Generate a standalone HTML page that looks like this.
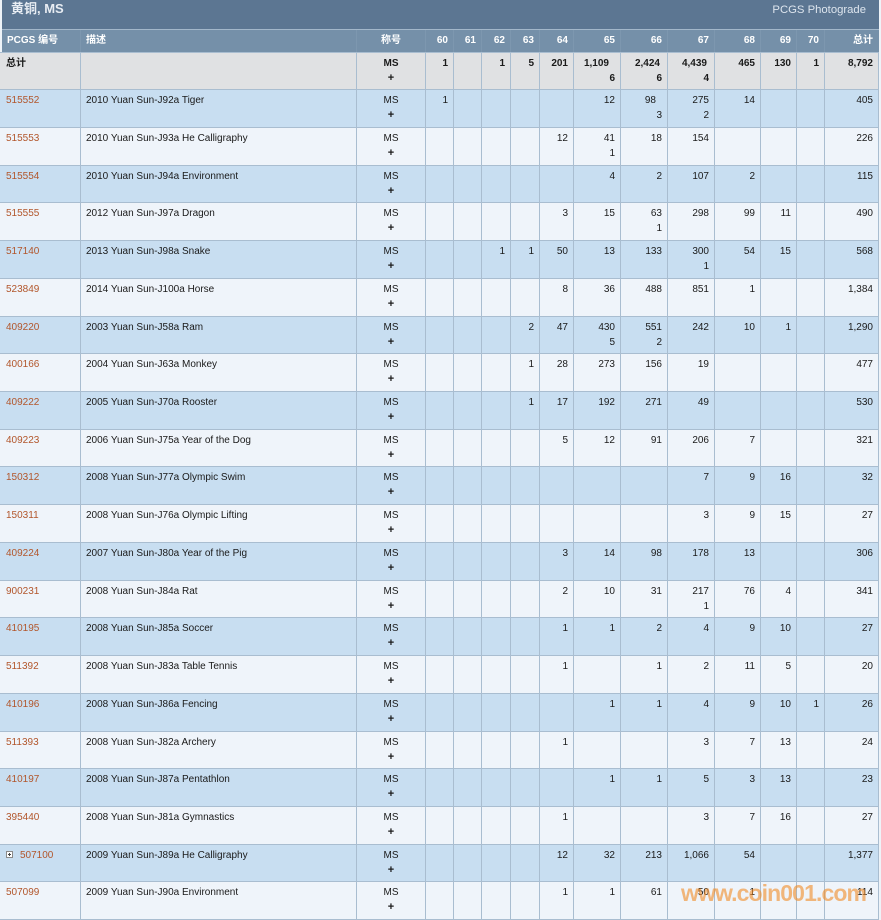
<!DOCTYPE html>
<html><head><meta charset="utf-8">
<style>
html,body{margin:0;padding:0}
body{width:881px;height:920px;position:relative;overflow:hidden;background:#eef3f8;font-family:"Liberation Sans","Noto Sans CJK SC",sans-serif;font-size:10px;color:#1a1a1a}
.title{position:absolute;left:2px;top:0;width:877px;height:29px;background:#5c7692}
.title .t{position:absolute;left:9px;top:1px;line-height:16px;font-size:13px;font-weight:bold;color:#e8edf3}
.title .p{position:absolute;right:13px;top:3px;line-height:14px;font-size:11.3px;color:#dde5ee}
.row{position:absolute;left:0;width:879px;box-sizing:border-box;border-top:1px solid #a9bdd0;display:flex}
.row>div{box-sizing:border-box;border-left:1px solid #a9bdd0;padding:3px 5px 0 5px;text-align:right;line-height:15px;height:100%;white-space:nowrap}
.row>div:nth-child(1){width:80px;border-left:none;padding-left:6px;text-align:left}
.row>div:nth-child(2){width:276px;text-align:left}
.row>div:nth-child(3){width:69px;text-align:center;padding:3px 0 0 0}
.row>div:nth-child(4){width:28px}
.row>div:nth-child(5){width:28px}
.row>div:nth-child(6){width:29px}
.row>div:nth-child(7){width:29px}
.row>div:nth-child(8){width:34px}
.row>div:nth-child(9){width:47px}
.row>div:nth-child(10){width:47px}
.row>div:nth-child(11){width:47px}
.row>div:nth-child(12){width:46px}
.row>div:nth-child(13){width:36px}
.row>div:nth-child(14){width:28px}
.row>div:nth-child(15){width:55px;border-right:1px solid #a9bdd0;padding-right:5px}
.row>div:nth-child(3) b{font-size:11px}
.hd{top:29px;height:23px;left:2px !important;width:877px !important;background:#7590a9;border-top:1px solid #a3b7ca !important;color:#fff;font-weight:bold}
.hd>div{border-left:1px solid #7d97af !important;line-height:22px !important;padding-top:0 !important}
.hd>div:nth-child(1){width:78px !important;border-left:none !important;padding-left:5px !important}
.hd>div:nth-child(15){border-right:none !important;padding-right:6px !important}
.tot{top:52px;height:37px;background:#e0e1e3;font-weight:bold}
.b{background:#c8def1}
.l{background:#eff4fa}
a{color:#b2562b;text-decoration:none}
.ex{display:inline-block;width:5px;height:5px;border:1px solid #8a8a8a;background:#fff;position:relative;vertical-align:top;margin:3px 7px 0 0}
.ex:before{content:"";position:absolute;left:1px;top:2px;width:3px;height:1px;background:#444}
.ex:after{content:"";position:absolute;left:2px;top:1px;width:1px;height:3px;background:#444}
.bot{position:absolute;left:0;top:919px;width:879px;height:1px;background:#a9bdd0}
.wm{position:absolute;left:681px;top:882px;font-size:23px;line-height:23px;font-weight:bold;letter-spacing:-0.9px;color:rgba(240,138,36,0.6);white-space:nowrap}
</style></head><body>
<div class="title"><div class="t">黄铜, MS</div><div class="p">PCGS Photograde</div></div>

<div class="row hd"><div>PCGS 编号</div><div>描述</div><div>称号</div><div>60</div><div>61</div><div>62</div><div>63</div><div>64</div><div>65</div><div>66</div><div>67</div><div>68</div><div>69</div><div>70</div><div>总计</div></div>

<div class="row tot"><div>总计</div><div></div><div>MS<br><b>+</b></div><div>1</div><div></div><div>1</div><div>5</div><div>201</div><div><span style="margin-right:6px">1,109</span><br>6</div><div><span style="margin-right:2px">2,424</span><br>6</div><div><span style="margin-right:2px">4,439</span><br>4</div><div>465</div><div>130</div><div>1</div><div>8,792</div></div>

<div class="row b" style="top:89px;height:38px"><div><a>515552</a></div><div>2010 Yuan Sun-J92a Tiger</div><div>MS<br><b>+</b></div><div>1</div><div></div><div></div><div></div><div></div><div>12</div><div><span style="margin-right:6px">98</span><br>3</div><div>275<br>2</div><div>14</div><div></div><div></div><div>405</div></div>

<div class="row l" style="top:127px;height:38px"><div><a>515553</a></div><div>2010 Yuan Sun-J93a He Calligraphy</div><div>MS<br><b>+</b></div><div></div><div></div><div></div><div></div><div>12</div><div>41<br>1</div><div>18</div><div>154</div><div></div><div></div><div></div><div>226</div></div>

<div class="row b" style="top:165px;height:37px"><div><a>515554</a></div><div>2010 Yuan Sun-J94a Environment</div><div>MS<br><b>+</b></div><div></div><div></div><div></div><div></div><div></div><div>4</div><div>2</div><div>107</div><div>2</div><div></div><div></div><div>115</div></div>

<div class="row l" style="top:202px;height:38px"><div><a>515555</a></div><div>2012 Yuan Sun-J97a Dragon</div><div>MS<br><b>+</b></div><div></div><div></div><div></div><div></div><div>3</div><div>15</div><div>63<br>1</div><div>298</div><div>99</div><div>11</div><div></div><div>490</div></div>

<div class="row b" style="top:240px;height:38px"><div><a>517140</a></div><div>2013 Yuan Sun-J98a Snake</div><div>MS<br><b>+</b></div><div></div><div></div><div>1</div><div>1</div><div>50</div><div>13</div><div>133</div><div>300<br>1</div><div>54</div><div>15</div><div></div><div>568</div></div>

<div class="row l" style="top:278px;height:38px"><div><a>523849</a></div><div>2014 Yuan Sun-J100a Horse</div><div>MS<br><b>+</b></div><div></div><div></div><div></div><div></div><div>8</div><div>36</div><div>488</div><div>851</div><div>1</div><div></div><div></div><div>1,384</div></div>

<div class="row b" style="top:316px;height:37px"><div><a>409220</a></div><div>2003 Yuan Sun-J58a Ram</div><div>MS<br><b>+</b></div><div></div><div></div><div></div><div>2</div><div>47</div><div>430<br>5</div><div>551<br>2</div><div>242</div><div>10</div><div>1</div><div></div><div>1,290</div></div>

<div class="row l" style="top:353px;height:38px"><div><a>400166</a></div><div>2004 Yuan Sun-J63a Monkey</div><div>MS<br><b>+</b></div><div></div><div></div><div></div><div>1</div><div>28</div><div>273</div><div>156</div><div>19</div><div></div><div></div><div></div><div>477</div></div>

<div class="row b" style="top:391px;height:38px"><div><a>409222</a></div><div>2005 Yuan Sun-J70a Rooster</div><div>MS<br><b>+</b></div><div></div><div></div><div></div><div>1</div><div>17</div><div>192</div><div>271</div><div>49</div><div></div><div></div><div></div><div>530</div></div>

<div class="row l" style="top:429px;height:37px"><div><a>409223</a></div><div>2006 Yuan Sun-J75a Year of the Dog</div><div>MS<br><b>+</b></div><div></div><div></div><div></div><div></div><div>5</div><div>12</div><div>91</div><div>206</div><div>7</div><div></div><div></div><div>321</div></div>

<div class="row b" style="top:466px;height:38px"><div><a>150312</a></div><div>2008 Yuan Sun-J77a Olympic Swim</div><div>MS<br><b>+</b></div><div></div><div></div><div></div><div></div><div></div><div></div><div></div><div>7</div><div>9</div><div>16</div><div></div><div>32</div></div>

<div class="row l" style="top:504px;height:38px"><div><a>150311</a></div><div>2008 Yuan Sun-J76a Olympic Lifting</div><div>MS<br><b>+</b></div><div></div><div></div><div></div><div></div><div></div><div></div><div></div><div>3</div><div>9</div><div>15</div><div></div><div>27</div></div>

<div class="row b" style="top:542px;height:38px"><div><a>409224</a></div><div>2007 Yuan Sun-J80a Year of the Pig</div><div>MS<br><b>+</b></div><div></div><div></div><div></div><div></div><div>3</div><div>14</div><div>98</div><div>178</div><div>13</div><div></div><div></div><div>306</div></div>

<div class="row l" style="top:580px;height:37px"><div><a>900231</a></div><div>2008 Yuan Sun-J84a Rat</div><div>MS<br><b>+</b></div><div></div><div></div><div></div><div></div><div>2</div><div>10</div><div>31</div><div>217<br>1</div><div>76</div><div>4</div><div></div><div>341</div></div>

<div class="row b" style="top:617px;height:38px"><div><a>410195</a></div><div>2008 Yuan Sun-J85a Soccer</div><div>MS<br><b>+</b></div><div></div><div></div><div></div><div></div><div>1</div><div>1</div><div>2</div><div>4</div><div>9</div><div>10</div><div></div><div>27</div></div>

<div class="row l" style="top:655px;height:38px"><div><a>511392</a></div><div>2008 Yuan Sun-J83a Table Tennis</div><div>MS<br><b>+</b></div><div></div><div></div><div></div><div></div><div>1</div><div></div><div>1</div><div>2</div><div>11</div><div>5</div><div></div><div>20</div></div>

<div class="row b" style="top:693px;height:38px"><div><a>410196</a></div><div>2008 Yuan Sun-J86a Fencing</div><div>MS<br><b>+</b></div><div></div><div></div><div></div><div></div><div></div><div>1</div><div>1</div><div>4</div><div>9</div><div>10</div><div>1</div><div>26</div></div>

<div class="row l" style="top:731px;height:37px"><div><a>511393</a></div><div>2008 Yuan Sun-J82a Archery</div><div>MS<br><b>+</b></div><div></div><div></div><div></div><div></div><div>1</div><div></div><div></div><div>3</div><div>7</div><div>13</div><div></div><div>24</div></div>

<div class="row b" style="top:768px;height:38px"><div><a>410197</a></div><div>2008 Yuan Sun-J87a Pentathlon</div><div>MS<br><b>+</b></div><div></div><div></div><div></div><div></div><div></div><div>1</div><div>1</div><div>5</div><div>3</div><div>13</div><div></div><div>23</div></div>

<div class="row l" style="top:806px;height:38px"><div><a>395440</a></div><div>2008 Yuan Sun-J81a Gymnastics</div><div>MS<br><b>+</b></div><div></div><div></div><div></div><div></div><div>1</div><div></div><div></div><div>3</div><div>7</div><div>16</div><div></div><div>27</div></div>

<div class="row b" style="top:844px;height:37px"><div><span class="ex"></span><a>507100</a></div><div>2009 Yuan Sun-J89a He Calligraphy</div><div>MS<br><b>+</b></div><div></div><div></div><div></div><div></div><div>12</div><div>32</div><div>213</div><div>1,066</div><div>54</div><div></div><div></div><div>1,377</div></div>

<div class="row l" style="top:881px;height:38px"><div><a>507099</a></div><div>2009 Yuan Sun-J90a Environment</div><div>MS<br><b>+</b></div><div></div><div></div><div></div><div></div><div>1</div><div>1</div><div>61</div><div>50</div><div>1</div><div></div><div></div><div>114</div></div>

<div class="bot"></div>
<div class="wm">www.coin001.com</div>
</body></html>
